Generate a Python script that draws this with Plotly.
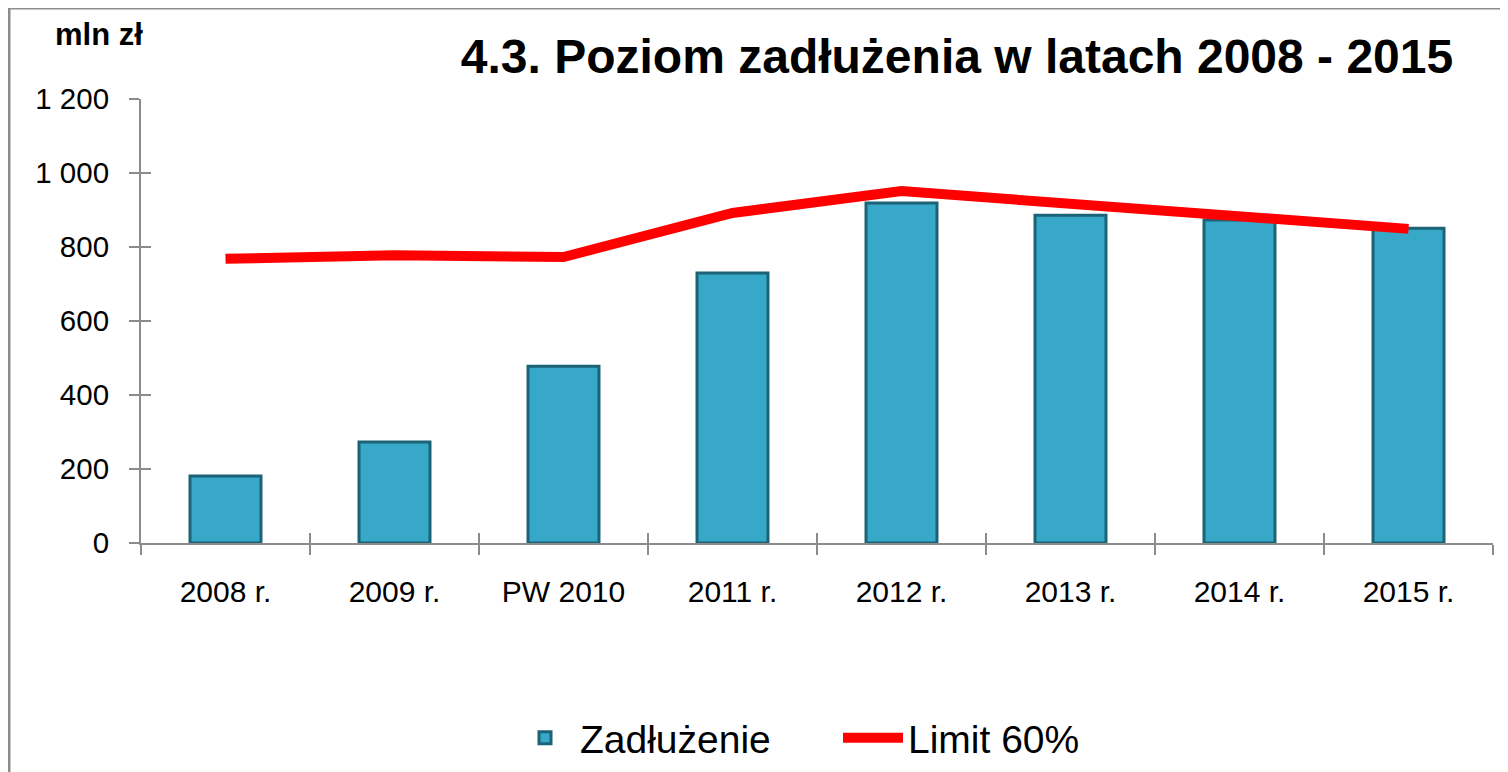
import plotly.graph_objects as go

categories = ["2008 r.", "2009 r.", "PW 2010", "2011 r.", "2012 r.", "2013 r.", "2014 r.", "2015 r."]
zadluzenie = [181, 273, 478, 730, 919, 886, 873, 851]
limit_60 = [768, 778, 773, 892, 951, 919, 886, 849]
y_tickvals = [0, 200, 400, 600, 800, 1000, 1200]
y_ticktext = ["0", "200", "400", "600", "800", "1 000", "1 200"]

FONT = "Liberation Sans, Arial, sans-serif"
OFF = 8  # page body margin offset
W, H = 1508 - OFF, 810
ML, MT = 141 - OFF, 99 - OFF
MR = W - (1493 - OFF)
MB = H - (543 - OFF)
PW = W - ML - MR
PH = H - MT - MB


def px_x(x):  # reference pixel -> paper x
    return (x - OFF - ML) / PW


def px_y(y):  # reference pixel -> paper y
    return 1 - (y - OFF - MT) / PH


fig = go.Figure()
fig.add_trace(go.Bar(
    x=categories, y=zadluzenie, name="Zadłużenie", width=0.42,
    marker=dict(color="#37A8C7", line=dict(color="#1C6378", width=3)),
))
fig.add_trace(go.Scatter(
    x=categories, y=limit_60, name="Limit 60%", mode="lines",
    line=dict(color="#FF0000", width=10),
))

axis_grey = "#8C8C8C"
fig.update_layout(
    width=W, height=H,
    margin=dict(l=ML, r=MR, t=MT, b=MB),
    paper_bgcolor="white", plot_bgcolor="white",
    font=dict(family=FONT, color="black"),
    title=dict(text="<b>4.3. Poziom zadłużenia w latach 2008 - 2015</b>",
               x=(957 - OFF) / W, xanchor="center", xref="container",
               y=1 - (56 - OFF) / H, yanchor="middle", yref="container",
               font=dict(size=48, family=FONT, color="black")),
    xaxis=dict(type="category", showgrid=False, showline=True, linecolor=axis_grey, linewidth=2,
               ticks="outside", tickson="boundaries", ticklen=10, tickcolor=axis_grey, tickwidth=2,
               tickfont=dict(size=30, family=FONT), ticklabelstandoff=21,
               range=[-0.5, 7.5]),
    yaxis=dict(range=[0, 1200], tickvals=y_tickvals, ticktext=y_ticktext, showgrid=False,
               showline=True, linecolor=axis_grey, linewidth=2, zeroline=False,
               ticks="outside", ticklen=10, tickcolor=axis_grey, tickwidth=2,
               tickfont=dict(size=29.5, family=FONT), ticklabelstandoff=14),
    yaxis2=dict(range=[0, 1200], tickvals=y_tickvals, overlaying="y", side="left",
                showticklabels=False, showgrid=False, showline=False, zeroline=False,
                ticks="inside", ticklen=10, tickcolor=axis_grey, tickwidth=2),
    xaxis2=dict(type="category", overlaying="x", side="bottom", anchor="y",
                categoryarray=categories, categoryorder="array",
                showticklabels=False, showgrid=False, showline=False, zeroline=False,
                ticks="inside", tickson="boundaries", ticklen=10, tickcolor=axis_grey, tickwidth=2,
                range=[-0.5, 7.5]),
    legend=dict(orientation="h", x=px_x(510), xanchor="left",
                y=px_y(738), yanchor="middle",
                font=dict(size=39, family=FONT), traceorder="normal",
                itemwidth=60, entrywidth=253, entrywidthmode="pixels",
                bgcolor="rgba(0,0,0,0)"),
    showlegend=True,
    bargap=0.58,
)

# helper trace to activate overlay axes (crossing tick marks)
fig.add_trace(go.Scatter(x=categories, y=[None] * len(categories), xaxis="x2", yaxis="y2",
                         showlegend=False, hoverinfo="skip", mode="lines"))

fig.add_annotation(text="<b>mln zł</b>", xref="paper", yref="paper",
                   x=px_x(99), y=px_y(34), showarrow=False,
                   xanchor="center", yanchor="middle",
                   font=dict(size=31, family=FONT, color="black"))

# outer chart frame
fig.add_shape(type="rect", xref="paper", yref="paper",
              x0=px_x(9), x1=px_x(1540),
              y0=px_y(840), y1=px_y(8),
              line=dict(color="#8C8C8C", width=3), fillcolor="rgba(0,0,0,0)", layer="below")

fig.write_html("out.html")
